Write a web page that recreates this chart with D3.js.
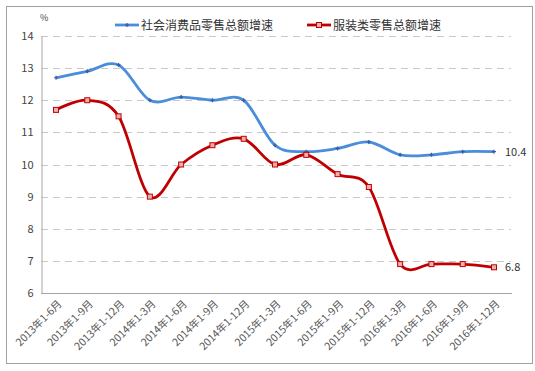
<!DOCTYPE html>
<html><head><meta charset="utf-8">
<script src="https://cdn.jsdelivr.net/npm/d3@7/dist/d3.min.js"></script>
<style>
html,body{margin:0;padding:0;background:#fff;}
svg{display:block;}
</style></head>
<body><svg id="chart" width="535" height="371"></svg>
<script>
const categories = ["2013年1-6月","2013年1-9月","2013年1-12月","2014年1-3月","2014年1-6月","2014年1-9月","2014年1-12月","2015年1-3月","2015年1-6月","2015年1-9月","2015年1-12月","2016年1-3月","2016年1-6月","2016年1-9月","2016年1-12月"];
const totalRetail = [12.7,12.9,13.1,12.0,12.1,12.0,12.0,10.6,10.4,10.5,10.7,10.3,10.3,10.4,10.4];
const apparelRetail = [11.7,12.0,11.5,9.0,10.0,10.6,10.8,10.0,10.3,9.7,9.3,6.9,6.9,6.9,6.8];
const seriesNames = ["社会消费品零售总额增速","服装类零售总额增速"];
const yTicks = [6,7,8,9,10,11,12,13,14];

const svg = d3.select("#chart");
const font = "'Noto Sans CJK SC', 'Noto Sans', sans-serif";
const m = {left:41, right:23, top:36, bottom:78};
const W = 535, H = 371;

svg.append("rect").attr("x",6.5).attr("y",6.5).attr("width",526).attr("height",357)
  .attr("fill","#fff").attr("stroke","#a0a0a0").attr("stroke-width",1);

const x = d3.scalePoint().domain(categories).range([56, 494]);
const y = d3.scaleLinear().domain([6,14]).range([293, 36]);

// grid
svg.append("g").selectAll("line").data(yTicks.filter(d=>d>6)).join("line")
  .attr("x1",41).attr("x2",511)
  .attr("y1",d=>Math.round(y(d))+0.5).attr("y2",d=>Math.round(y(d))+0.5)
  .attr("stroke","#c8c8c8").attr("stroke-width",1).attr("stroke-dasharray","7,5");

// axes
const yAxis = d3.axisLeft(y).tickValues(yTicks).tickSize(0).tickPadding(8).tickFormat(d3.format("d"));
const gy = svg.append("g").attr("transform","translate(41.5,0)").call(yAxis);
gy.select(".domain").attr("stroke","#a6a6a6");
gy.selectAll("text").attr("font-family",font).attr("font-size","11px").attr("fill","#444");

const gx = svg.append("g").attr("transform","translate(0,293.5)")
  .call(d3.axisBottom(x).tickSize(0).tickPadding(0));
gx.select(".domain").attr("stroke","#a6a6a6").attr("d","M41,0H512");
gx.selectAll("text").attr("font-family",font).attr("font-size","10.5px").attr("fill","#555")
  .attr("text-anchor","end").attr("dy","0")
  .attr("transform","translate(6,11) rotate(-45)");

svg.append("text").attr("x",40).attr("y",21).text("%")
  .attr("font-family",font).attr("font-size","9px").attr("fill","#444");

const line = d3.line().x((d,i)=>x(categories[i])).y(d=>y(d)).curve(d3.curveCardinal.tension(0));

const blue = "#4a8ddb", red = "#c00000";
svg.append("path").datum(totalRetail).attr("d",line).attr("fill","none")
  .attr("stroke",blue).attr("stroke-width",2.8);
svg.append("path").datum(apparelRetail).attr("d",line).attr("fill","none")
  .attr("stroke",red).attr("stroke-width",2.8);

// markers
const mb = svg.append("g");
totalRetail.forEach((v,i)=>{
  const cx = x(categories[i]), cy = y(v);
  mb.append("path").attr("d",`M${cx-2},${cy}H${cx+2}M${cx},${cy-2}V${cy+2}`)
    .attr("stroke","#3a5a9a").attr("stroke-width",1.2);
});
svg.append("g").selectAll("rect").data(apparelRetail).join("rect")
  .attr("x",(d,i)=>x(categories[i])-2.5).attr("y",d=>y(d)-2.5)
  .attr("width",5).attr("height",5).attr("fill","#e8b0b0").attr("stroke",red).attr("stroke-width",1);

// end labels
svg.append("text").attr("x",505).attr("y",y(totalRetail[totalRetail.length-1])+4).text(totalRetail[totalRetail.length-1].toFixed(1))
  .attr("font-family",font).attr("font-size","11px").attr("fill","#333");
svg.append("text").attr("x",505).attr("y",y(apparelRetail[apparelRetail.length-1])+4).text(apparelRetail[apparelRetail.length-1].toFixed(1))
  .attr("font-family",font).attr("font-size","11px").attr("fill","#333");

// legend
const lg = svg.append("g").attr("font-family",font).attr("font-size","12px").attr("fill","#333");
lg.append("line").attr("x1",115).attr("x2",139).attr("y1",25).attr("y2",25).attr("stroke",blue).attr("stroke-width",2.8);
lg.append("path").attr("d","M125,25H129M127,23V27").attr("stroke","#3a5a9a").attr("stroke-width",1.2);
lg.append("text").attr("x",141).attr("y",29.5).text(seriesNames[0]);
lg.append("line").attr("x1",307).attr("x2",331).attr("y1",25).attr("y2",25).attr("stroke",red).attr("stroke-width",2.8);
lg.append("rect").attr("x",316.5).attr("y",22.5).attr("width",5).attr("height",5).attr("fill","#e8b0b0").attr("stroke",red);
lg.append("text").attr("x",333).attr("y",29.5).text(seriesNames[1]);
</script></body></html>
